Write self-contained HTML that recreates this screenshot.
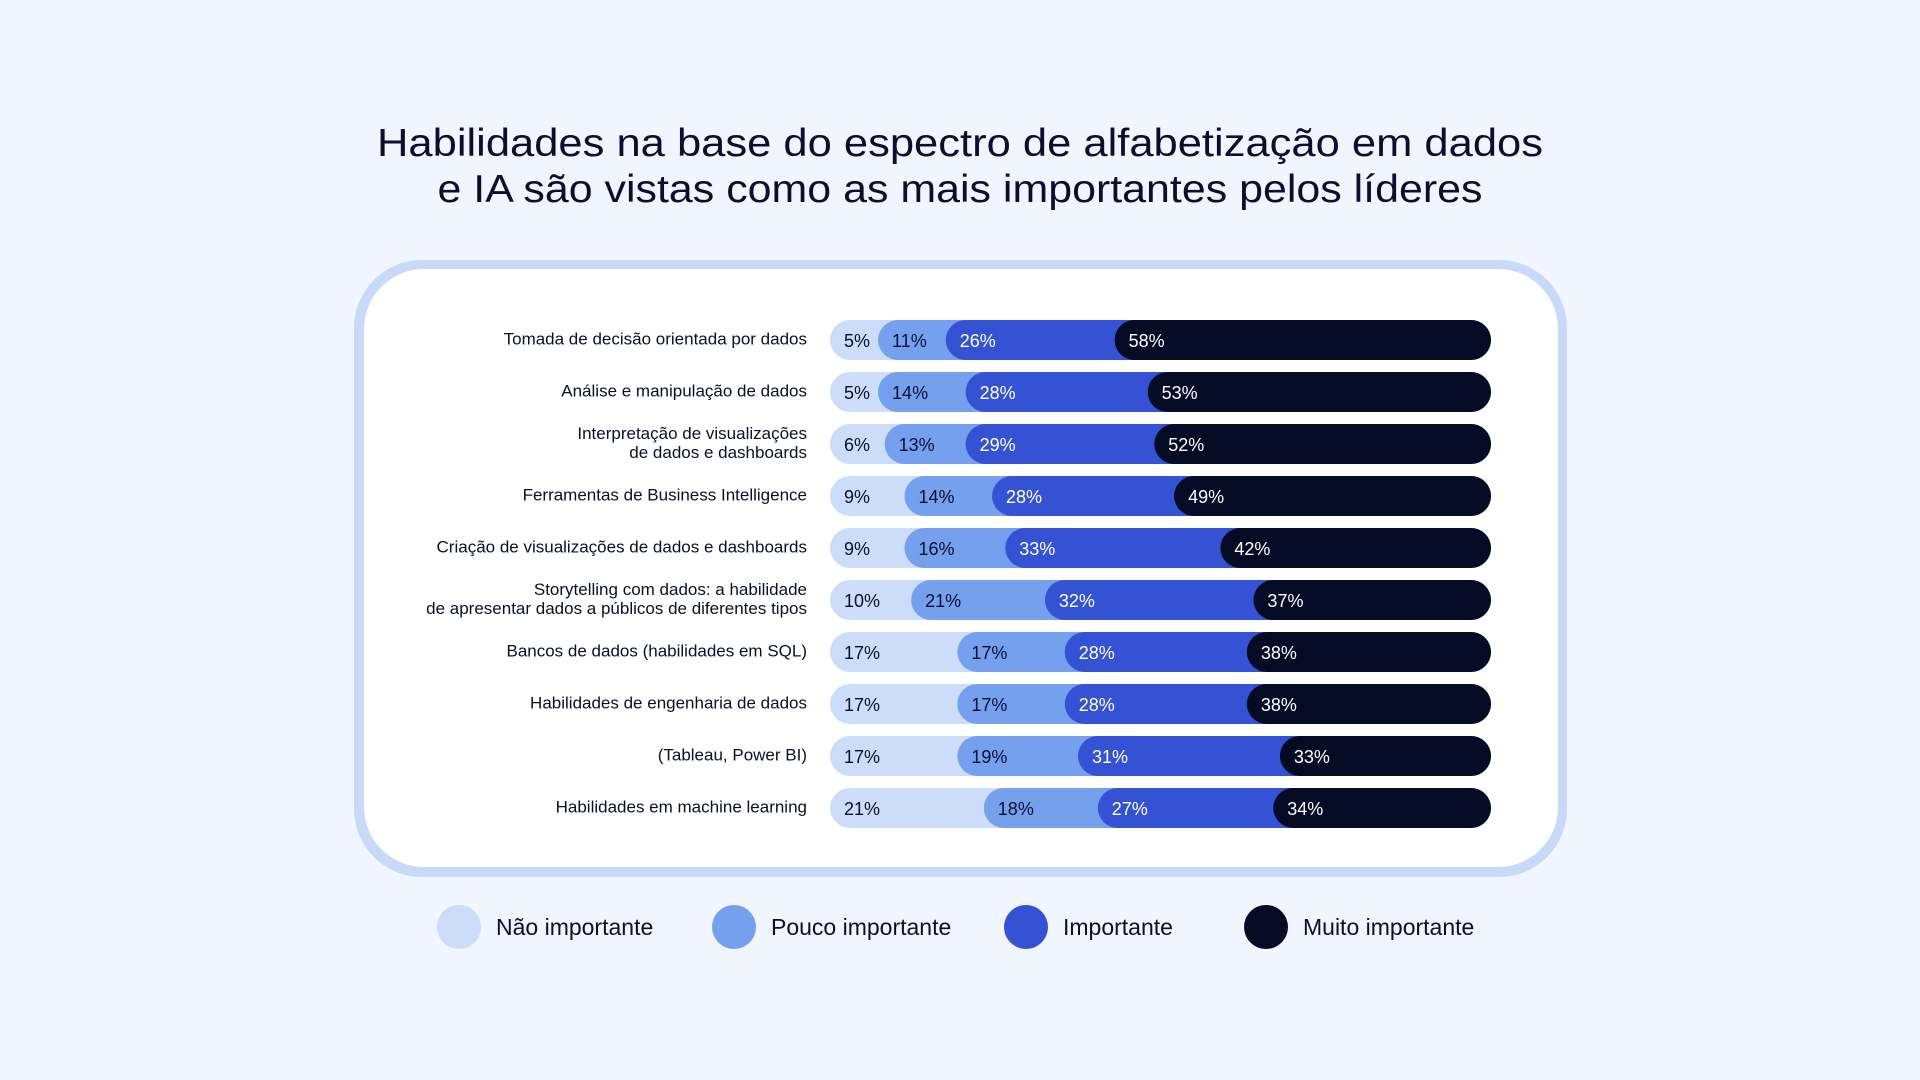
<!DOCTYPE html>
<html><head><meta charset="utf-8"><style>
html,body{margin:0;padding:0;background:#f0f5fe;}
svg{display:block;font-family:"Liberation Sans",sans-serif;}
</style></head><body>
<svg id="chart" width="1920" height="1080" viewBox="0 0 1920 1080" xmlns="http://www.w3.org/2000/svg">
<rect x="0" y="0" width="1920" height="1080" fill="#f0f5fe"/>
<text x="960" y="156" text-anchor="middle" font-size="39" fill="#0a0f2e" textLength="1166" lengthAdjust="spacingAndGlyphs">Habilidades na base do espectro de alfabetização em dados</text>
<text x="960" y="202" text-anchor="middle" font-size="39" fill="#0a0f2e" textLength="1045" lengthAdjust="spacingAndGlyphs">e IA são vistas como as mais importantes pelos líderes</text>
<rect x="354" y="260" width="1213" height="617" rx="68" fill="#c9d9f8"/>
<rect x="364" y="269" width="1194" height="598" rx="60" fill="#ffffff"/>
<g id="rows"></g>
<g id="legend"></g>
</svg>
<script>
const categories = [
  ["Tomada de decisão orientada por dados"],
  ["Análise e manipulação de dados"],
  ["Interpretação de visualizações","de dados e dashboards"],
  ["Ferramentas de Business Intelligence"],
  ["Criação de visualizações de dados e dashboards"],
  ["Storytelling com dados: a habilidade","de apresentar dados a públicos de diferentes tipos"],
  ["Bancos de dados (habilidades em SQL)"],
  ["Habilidades de engenharia de dados"],
  ["(Tableau, Power BI)"],
  ["Habilidades em machine learning"]
];
const naoImportante = [5,5,6,9,9,10,17,17,17,21];
const poucoImportante = [11,14,13,14,16,21,17,17,19,18];
const importante = [26,28,29,28,33,32,28,28,31,27];
const muitoImportante = [58,53,52,49,42,37,38,38,33,34];
const seriesNames = ["Não importante","Pouco importante","Importante","Muito importante"];

const NS = "http://www.w3.org/2000/svg";
const colors = ["#cddcf8","#75a0ee","#3652d4","#050b25"];
const textColors = ["#0a0f2e","#0a0f2e","#ffffff","#ffffff"];
const x0 = 830, W = 661, barH = 40, rowStart = 340, rowStep = 52;
const offsets = [0, 15, 10, 7];
const xScale = v => x0 + v / 100 * W;
const yScale = i => rowStart + i * rowStep;
const series = [naoImportante, poucoImportante, importante, muitoImportante];
const rows = document.getElementById('rows');
function mk(tag, attrs, parent){ const e = document.createElementNS(NS, tag); for (const k in attrs) e.setAttribute(k, attrs[k]); parent.appendChild(e); return e; }

categories.forEach((cat, i) => {
  const cy = yScale(i);
  const g = mk('g', {}, rows);
  
  
  const lh = 19;
  cat.forEach((line, j) => {
    const t = mk('text', {x: 807, y: cy - (cat.length - 1) * lh / 2 + j * lh - 1, 'text-anchor': 'end', 'dominant-baseline': 'central', 'font-size': 17, fill: '#0a0f2e'}, g);
    
    
    t.textContent = line;
  });
  let cum = 0;
  const total = series.reduce((s, a) => s + a[i], 0);
  series.forEach((arr, k) => {
    const v = arr[i];
    const sx = xScale(cum) + offsets[k];
    const ex = xScale(total);
    const r = mk('rect', {x: sx, y: cy - barH / 2, width: Math.max(ex - sx, barH), height: barH, rx: barH / 2, fill: colors[k]}, g);
    
    
    const t = mk('text', {x: sx + 14, y: cy + 1, 'dominant-baseline': 'central', 'font-size': 18, fill: textColors[k]}, g);
    
    
    t.textContent = v + '%';
    cum += v;
  });
});

const legend = document.getElementById('legend');
const legendCx = [459, 734, 1026, 1266];
seriesNames.forEach((n, k) => {
  const g = mk('g', {}, legend);
  
  
  const c = mk('circle', {cx: legendCx[k], cy: 927, r: 22, fill: colors[k]}, g);
  
  
  const t = mk('text', {x: legendCx[k] + 37, y: 927, 'dominant-baseline': 'central', 'font-size': 23, fill: '#0a0f2e'}, g);
  
  
  t.textContent = n;
});
</script>
</body></html>
